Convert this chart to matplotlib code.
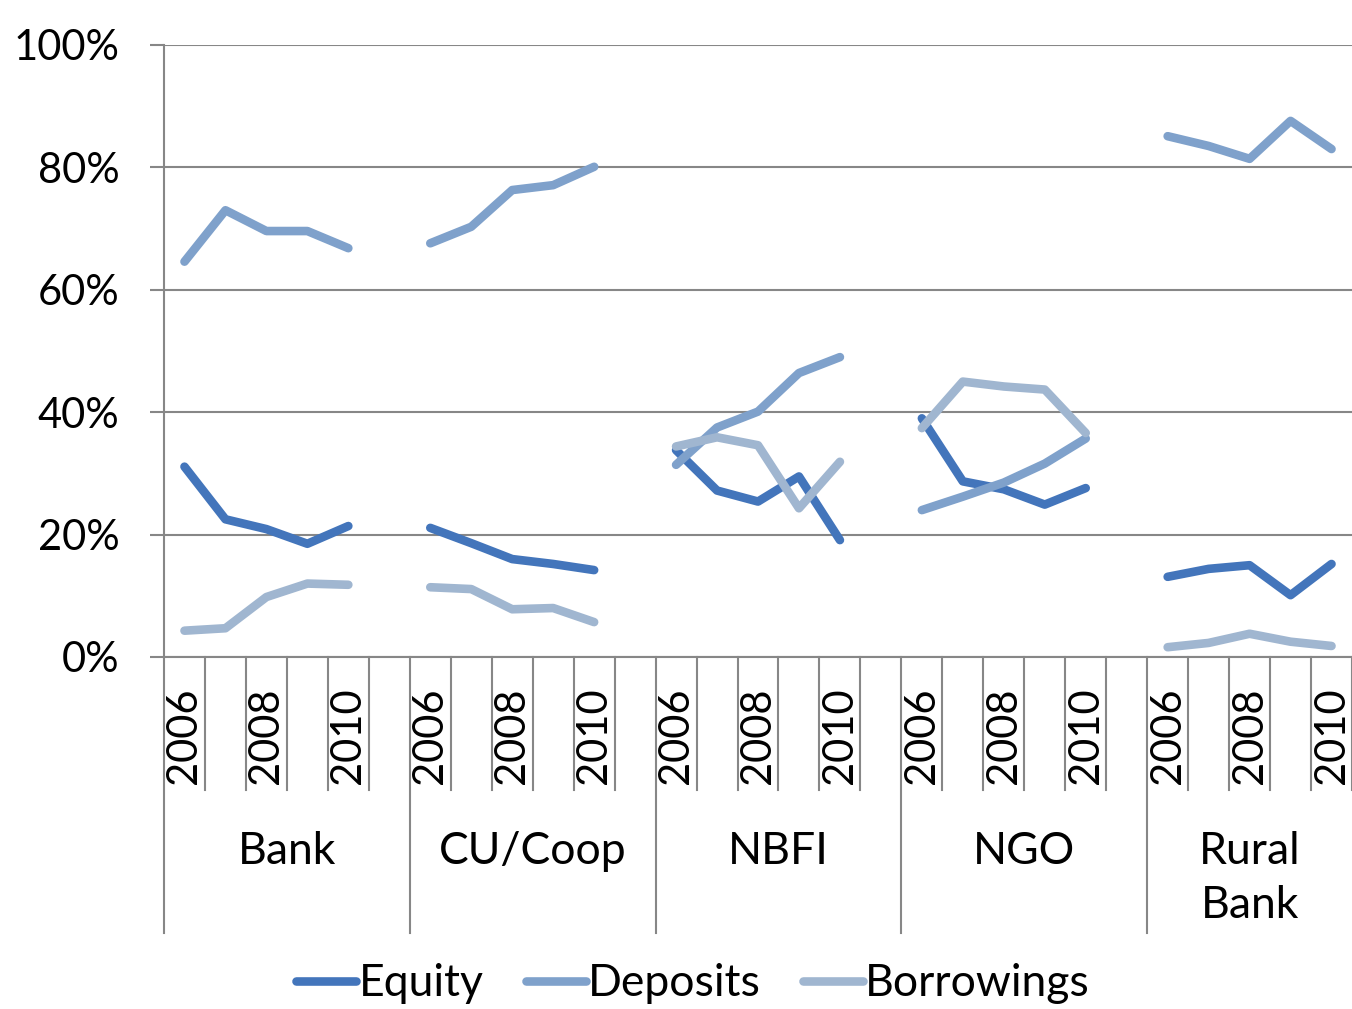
import numpy as np
import matplotlib
matplotlib.use("Agg")
import matplotlib.pyplot as plt
import matplotlib.transforms as mtransforms

plt.rcParams['font.family'] = ['Lato', 'DejaVu Sans']

groups = ["Bank", "CU/Coop", "NBFI", "NGO", "Rural\nBank"]
years = ["2006", "2007", "2008", "2009", "2010"]

equity = {
    "Bank":       [31.1, 22.5, 20.9, 18.5, 21.4],
    "CU/Coop":    [21.1, 18.6, 16.0, 15.2, 14.2],
    "NBFI":       [33.8, 27.2, 25.4, 29.5, 19.1],
    "NGO":        [39.0, 28.7, 27.4, 24.9, 27.6],
    "Rural\nBank": [13.1, 14.4, 15.0, 10.1, 15.2],
}
deposits = {
    "Bank":       [64.6, 73.0, 69.6, 69.6, 66.8],
    "CU/Coop":    [67.6, 70.3, 76.3, 77.1, 80.1],
    "NBFI":       [31.4, 37.5, 40.1, 46.4, 49.0],
    "NGO":        [24.0, 26.2, 28.5, 31.6, 35.7],
    "Rural\nBank": [85.1, 83.5, 81.4, 87.6, 83.0],
}
borrowings = {
    "Bank":       [4.3, 4.7, 9.8, 12.0, 11.8],
    "CU/Coop":    [11.4, 11.1, 7.8, 8.0, 5.7],
    "NBFI":       [34.4, 35.9, 34.6, 24.3, 31.9],
    "NGO":        [37.4, 45.0, 44.2, 43.7, 36.6],
    "Rural\nBank": [1.6, 2.3, 3.8, 2.5, 1.8],
}

series = [("Equity", equity, "#4375BB"),
          ("Deposits", deposits, "#7FA1CB"),
          ("Borrowings", borrowings, "#A0B6D0")]

# category slots: each group has 5 years + an empty gap slot (except last)
slot_labels = []
for gi, g in enumerate(groups):
    slot_labels.extend(years)
    if gi < len(groups) - 1:
        slot_labels.append("")
nslots = len(slot_labels)

fig = plt.figure(figsize=(13.52, 10.09), dpi=100)
ax = fig.add_axes([164/1352, 1 - 657/1009, 1 - 164/1352, (657 - 45)/1009])

grid_color = "#878787"
FS = 30

for name, data, color in series:
    for gi, g in enumerate(groups):
        start = gi * 6
        xs = np.arange(start, start + 5) + 0.5
        ax.plot(xs, data[g], color=color, lw=6.2, solid_capstyle='round',
                solid_joinstyle='round', label=name if gi == 0 else None, zorder=3)

ax.set_xlim(0, nslots)
ax.set_ylim(0, 100)
ax.set_yticks([0, 20, 40, 60, 80, 100])
ax.set_yticklabels([f"{v}%" for v in [0, 20, 40, 60, 80, 100]], fontsize=FS)
ax.tick_params(axis='y', length=10, width=1.5, color=grid_color, pad=22)
ax.set_xticks([])
ax.grid(axis='y', color=grid_color, lw=1.5, zorder=0)
for s in ["top", "right", "bottom"]:
    ax.spines[s].set_visible(False)
ax.spines["left"].set_color(grid_color)
ax.spines["left"].set_linewidth(1.5)

trans = mtransforms.blended_transform_factory(ax.transData, ax.transAxes)
# slot boundaries
for i in range(nslots + 1):
    ybot = -0.451 if (i % 6 == 0 and i < nslots) else -0.217
    ax.plot([i, i], [0, ybot], color=grid_color, lw=1.5, transform=trans,
            clip_on=False)
ax.plot([0, nslots], [0, 0], color=grid_color, lw=1.5, transform=trans,
        clip_on=False, zorder=1)

# year labels every other slot
for i, lab in enumerate(slot_labels):
    if i % 2 == 0 and lab:
        ax.text(i + 0.5, -0.05, lab, rotation=90, ha='center', va='top',
                fontsize=FS, transform=trans)

# group labels
for gi, g in enumerate(groups):
    start = gi * 6
    end = min(start + 6, nslots)
    ax.text((start + end) / 2, -0.285, g, ha='center', va='top', fontsize=32,
            transform=trans, linespacing=1.38)

handles, labels = ax.get_legend_handles_labels()
fig.legend(handles, labels, loc='center', bbox_to_anchor=(0.5126, 0.025), ncol=3,
           frameon=False, fontsize=32, handlelength=1.35, handletextpad=0.05,
           columnspacing=0.95)

fig.savefig("out.png", dpi=100)
